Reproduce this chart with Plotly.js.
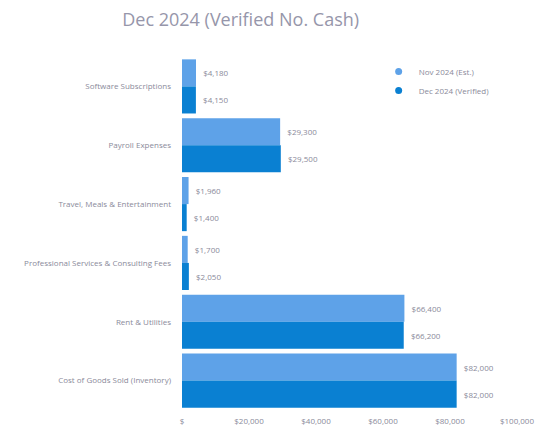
<!DOCTYPE html>
<html>
<head>
<meta charset="utf-8">
<script src="https://cdn.plot.ly/plotly-3.0.1.min.js"></script>
<style>html,body{margin:0;padding:0;background:#fff;}#chart{width:547px;height:434px;}</style>
</head>
<body>
<div id="chart"></div>
<script>
const categories = [
  "Software Subscriptions",
  "Payroll Expenses",
  "Travel, Meals & Entertainment",
  "Professional Services & Consulting Fees",
  "Rent & Utilities",
  "Cost of Goods Sold (Inventory)"
];
const seriesNames = ["Nov 2024 (Est.)", "Dec 2024 (Verified)"];
const seriesLight = [4180, 29300, 1960, 1700, 66400, 82000];
const seriesDark = [4150, 29500, 1400, 2050, 66200, 82000];
const xTicks = [0, 20000, 40000, 60000, 80000, 100000];
const xTickText = ["$", "$20,000", "$40,000", "$60,000", "$80,000", "$100,000"];

const lightColor = "#5EA2E8";
const darkColor = "#0A80D2";
const textGray = "#8a8a9a";

const traces = [
  {type: "bar", orientation: "h", name: seriesNames[0], y: categories, x: seriesLight,
   marker: {color: lightColor}, text: seriesLight, texttemplate: "  %{x:$,.0f}",
   textposition: "outside", textfont: {size: 8, color: textGray}, cliponaxis: false, showlegend: false},
  {type: "bar", orientation: "h", name: seriesNames[1], y: categories, x: seriesDark,
   marker: {color: darkColor}, text: seriesDark, texttemplate: "  %{x:$,.0f}",
   textposition: "outside", textfont: {size: 8, color: textGray}, cliponaxis: false, showlegend: false},
  {type: "scatter", mode: "markers", name: seriesNames[0], x: [null], y: [null],
   marker: {color: lightColor, size: 7, symbol: "circle"}},
  {type: "scatter", mode: "markers", name: seriesNames[1], x: [null], y: [null],
   marker: {color: darkColor, size: 7, symbol: "circle"}}
];

const layout = {
  width: 547, height: 434,
  margin: {l: 182, r: 20, t: 57, b: 24},
  paper_bgcolor: "#fff", plot_bgcolor: "#fff",
  font: {family: "Open Sans, sans-serif", color: textGray, size: 8},
  title: {text: "Dec 2024 (Verified No. Cash)", x: 0.44, xanchor: "center", y: 0.955, yanchor: "middle",
          font: {size: 18, color: "#9696aa"}},
  barmode: "group", bargap: 0.08, bargroupgap: 0,
  xaxis: {range: [0, 103000], tickvals: xTicks, ticktext: xTickText, ticklabelstandoff: 5,
          showgrid: false, zeroline: false, showline: false, tickfont: {size: 8, color: textGray}},
  yaxis: {autorange: "reversed", showgrid: false, zeroline: false, showline: false,
          ticks: "", ticklen: 0, ticklabelstandoff: 10, tickfont: {size: 8, color: textGray}},
  legend: {x: 0.57, y: 1.0, xanchor: "left", yanchor: "top", bgcolor: "rgba(0,0,0,0)",
           font: {size: 8, color: textGray}, itemwidth: 30}
};

Plotly.newPlot("chart", traces, layout, {displayModeBar: false, staticPlot: true});
</script>
</body>
</html>
